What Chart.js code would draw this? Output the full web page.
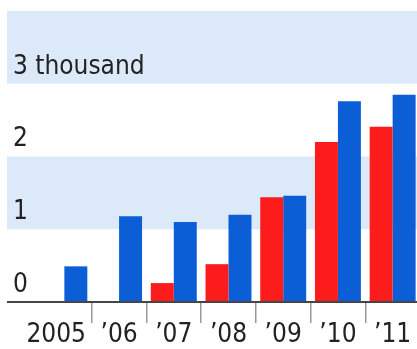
<!DOCTYPE html>
<html><head><meta charset="utf-8">
<script src="https://cdn.jsdelivr.net/npm/chart.js@4/dist/chart.umd.min.js"></script>
<style>
html,body{margin:0;padding:0;background:#fff;overflow:hidden;width:417px;height:349px}
#wrap{width:420px;height:349px}
</style></head>
<body><div id="wrap"><canvas id="c" width="420" height="349"></canvas></div>
<script>
const categories = ['2005', '\u201906', '\u201907', '\u201908', '\u201909', '\u201910', '\u201911'];
const redValues  = [0, 0, 0.26, 0.52, 1.44, 2.20, 2.41];
const blueValues = [0.49, 1.18, 1.10, 1.20, 1.46, 2.76, 2.85];
const yTickValues = [0, 1, 2, 3, 4];
const yTickLabels = ['0', '1', '2', '3 thousand', ''];
const bandRanges = [[1, 2], [3, 4]];

const FONT = '"Liberation Sans Narrow", "DejaVu Sans Condensed", "Open Sans", sans-serif';

const backdrop = {
  id: 'backdrop',
  beforeDraw(chart) {
    const {ctx} = chart, y = chart.scales.y;
    ctx.save();
    ctx.fillStyle = '#dce9f9';
    bandRanges.forEach(([a, b]) => {
      const y1 = y.getPixelForValue(b), y2 = y.getPixelForValue(a);
      ctx.fillRect(7, y1, chart.width - 7, y2 - y1);
    });
    ctx.restore();
  },
  afterDatasetsDraw(chart) {
    const {ctx} = chart, y = chart.scales.y;
    const y0 = y.getPixelForValue(0);
    ctx.save();
    ctx.strokeStyle = '#454545';
    ctx.lineWidth = 2;
    ctx.beginPath();
    ctx.moveTo(7, y0);
    ctx.lineTo(chart.width, y0);
    ctx.stroke();
    ctx.restore();
  }
};

new Chart(document.getElementById('c'), {
  type: 'bar',
  data: {
    labels: categories,
    datasets: [
      {data: redValues, backgroundColor: '#fd1c1c', borderWidth: 0},
      {data: blueValues, backgroundColor: '#0b5ed6', borderWidth: 0}
    ]
  },
  options: {
    responsive: false,
    animation: false,
    events: [],
    layout: {padding: {left: 37, top: 11, right: 0, bottom: 0}},
    plugins: {legend: {display: false}, tooltip: {enabled: false}},
    datasets: {bar: {categoryPercentage: 0.84, barPercentage: 1.0}},
    scales: {
      x: {
        offset: true,
        border: {display: false},
        grid: {
          offset: true,
          drawOnChartArea: false,
          drawTicks: true,
          tickLength: 21,
          lineWidth: 1.5,
          color: (c) => (c.index === 0 ? 'rgba(0,0,0,0)' : '#999999')
        },
        ticks: {
          padding: -3,
          maxRotation: 0,
          autoSkip: false,
          color: '#222',
          font: {family: FONT, size: 26},
          callback: (v, i) => (i === 0 ? categories[i] + '\u2002\u2009' : categories[i])
        },
        afterFit: (s) => { s.height = 47; s.paddingLeft = 0; s.paddingRight = 0; }
      },
      y: {
        min: 0, max: 4,
        border: {display: false},
        grid: {display: false},
        afterBuildTicks: (s) => { s.ticks = yTickValues.map(v => ({value: v})); },
        ticks: {
          mirror: true,
          padding: -24,
          labelOffset: -17,
          crossAlign: 'near',
          color: '#222',
          font: {family: FONT, size: 26},
          callback: (v) => yTickLabels[yTickValues.indexOf(v)]
        },
        afterFit: (s) => { s.width = 0; s.paddingTop = 0; s.paddingBottom = 0; }
      }
    }
  },
  plugins: [backdrop]
});
</script>
</body></html>
